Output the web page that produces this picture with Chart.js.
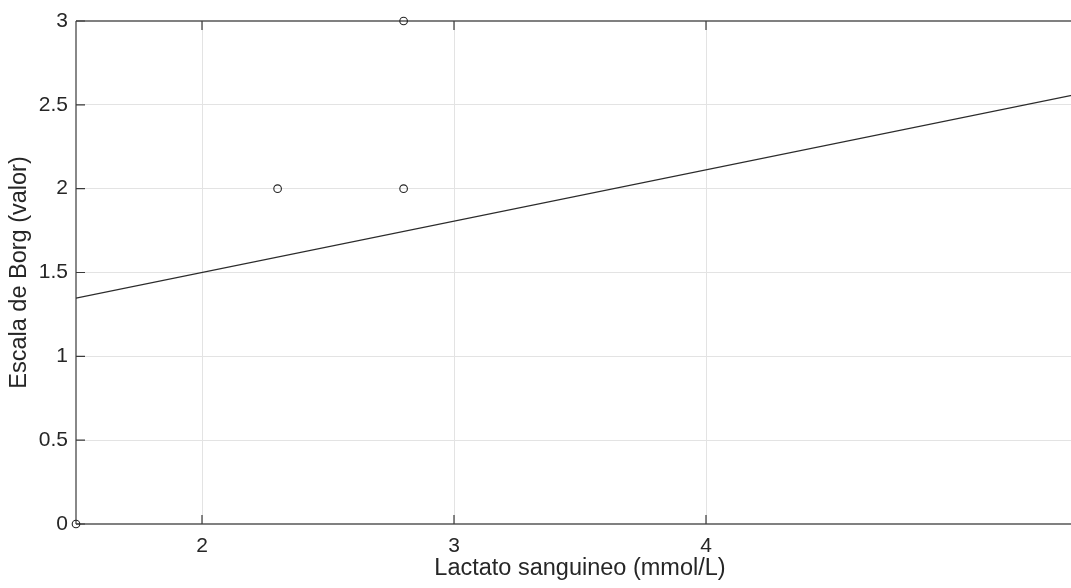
<!DOCTYPE html>
<html>
<head>
<meta charset="utf-8">
<title>Lactato vs Borg</title>
<script src="https://cdn.jsdelivr.net/npm/chart.js@4/dist/chart.umd.min.js"></script>
<style>
    html, body { margin: 0; padding: 0; background: #ffffff; overflow: hidden; }
    #wrap { width: 1071px; height: 588px; overflow: hidden; }
    canvas { display: block; }
</style>
</head>
<body>
<div id="wrap">
    <canvas id="borgChart" width="1090" height="588"></canvas>
</div>
<script>
// Measured points (blood lactate vs Borg scale)
const lactato = [1.5, 2.3, 2.8, 2.8];
const borg = [0, 2, 2, 3];

const ajusteX = [1.5, 5.5];
const ajusteY = [1.347, 2.571];

// Tick values for both axes
const xTicks = [2, 3, 4];
const yTicks = [0, 0.5, 1, 1.5, 2, 2.5, 3];

// Build the point lists the scatter chart needs
const puntos = lactato.map((x, i) => ({ x: x, y: borg[i] }));
const recta = ajusteX.map((x, i) => ({ x: x, y: ajusteY[i] }));

const axisColor = '#3a3a3a';
const textColor = '#262626';
const fontFamily = '"Liberation Sans", Arial, sans-serif';

// Draws a MATLAB style box around the plot with small inward ticks
const boxPlugin = {
    id: 'boxPlugin',
    beforeDatasetsDraw(chart)
    {
        const { ctx, chartArea, scales } = chart;
        const tickLen = 9;
        ctx.save();
        ctx.strokeStyle = '#808080';
        ctx.lineWidth = 2;
        // top and bottom edges
        ctx.beginPath();
        ctx.moveTo(chartArea.left, chartArea.top);
        ctx.lineTo(chartArea.right, chartArea.top);
        ctx.moveTo(chartArea.left, chartArea.bottom);
        ctx.lineTo(chartArea.right, chartArea.bottom);
        ctx.stroke();
        // left and right edges
        ctx.strokeStyle = axisColor;
        ctx.lineWidth = 1.2;
        ctx.beginPath();
        ctx.moveTo(chartArea.left, chartArea.top);
        ctx.lineTo(chartArea.left, chartArea.bottom);
        ctx.moveTo(chartArea.right, chartArea.top);
        ctx.lineTo(chartArea.right, chartArea.bottom);
        ctx.stroke();
        // inward ticks
        ctx.beginPath();
        xTicks.forEach(v => {
            const px = scales.x.getPixelForValue(v);
            ctx.moveTo(px, chartArea.bottom);
            ctx.lineTo(px, chartArea.bottom - tickLen);
            ctx.moveTo(px, chartArea.top);
            ctx.lineTo(px, chartArea.top + tickLen);
        });
        yTicks.forEach(v => {
            const py = scales.y.getPixelForValue(v);
            ctx.moveTo(chartArea.left, py);
            ctx.lineTo(chartArea.left + tickLen, py);
            ctx.moveTo(chartArea.right, py);
            ctx.lineTo(chartArea.right - tickLen, py);
        });
        ctx.stroke();
        ctx.restore();
    }
};

const ctx = document.getElementById('borgChart').getContext('2d');

new Chart(ctx,
{
    type: 'scatter',
    data:
    {
        datasets: [
            {
                label: 'Datos',
                data: puntos,
                showLine: false,
                pointStyle: 'circle',
                pointRadius: 3.8,
                pointBorderWidth: 1.1,
                pointBorderColor: '#222222',
                pointBackgroundColor: 'rgba(255,255,255,0)',
                clip: false
            },
            {
                label: 'Ajuste',
                data: recta,
                showLine: true,
                borderColor: '#2b2b2b',
                borderWidth: 1.2,
                pointRadius: 0,
                fill: false
            }
        ]
    },
    options:
    {
        responsive: false,
        animation: false,
        devicePixelRatio: 1,
        layout: { padding: { top: 21, right: 6, left: 0, bottom: 0 } },
        plugins:
        {
            legend: { display: false },
            tooltip: { enabled: false }
        },
        scales:
        {
            x:
            {
                type: 'linear',
                min: 1.5,
                max: 5.5,
                afterBuildTicks: scale => { scale.ticks = xTicks.map(v => ({ value: v })); },
                afterFit: scale => { scale.height = 64; },
                border: { display: false },
                grid: { color: '#e3e3e3', lineWidth: 1, drawTicks: false },
                ticks:
                {
                    padding: 10,
                    color: textColor,
                    font: { family: fontFamily, size: 21 },
                    callback: v => String(v)
                },
                title:
                {
                    display: true,
                    text: 'Lactato sanguineo (mmol/L)',
                    color: textColor,
                    font: { family: fontFamily, size: 23.5 },
                    padding: { top: 0, bottom: 5 }
                }
            },
            y:
            {
                min: 0,
                max: 3,
                afterBuildTicks: scale => { scale.ticks = yTicks.map(v => ({ value: v })); },
                afterFit: scale => { scale.width = 76; },
                border: { display: false },
                grid: { color: '#e3e3e3', lineWidth: 1, drawTicks: false },
                ticks:
                {
                    padding: 8,
                    color: textColor,
                    font: { family: fontFamily, size: 21 },
                    callback: v => String(v)
                },
                title:
                {
                    display: true,
                    text: 'Escala de Borg (valor)',
                    color: textColor,
                    font: { family: fontFamily, size: 23.5 },
                    padding: { top: 5, bottom: 0 }
                }
            }
        }
    },
    plugins: [boxPlugin]
});
</script>
</body>
</html>
